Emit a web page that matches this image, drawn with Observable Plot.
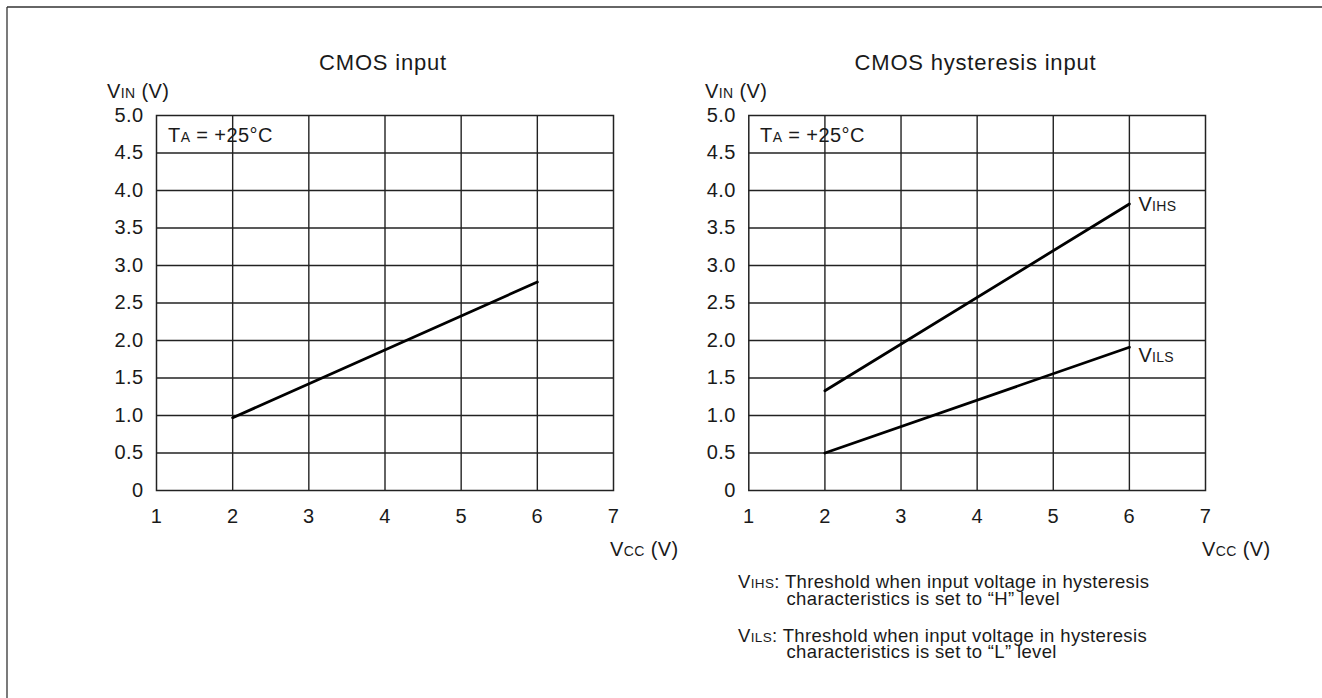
<!DOCTYPE html>
<html><head><meta charset="utf-8">
<script src="https://cdn.jsdelivr.net/npm/d3@7"></script>
<script src="https://cdn.jsdelivr.net/npm/@observablehq/plot@0.6"></script>
<style>
body{margin:0;background:#fff;}
#page{position:relative;width:1322px;height:698px;overflow:hidden;font-family:"Liberation Sans",Arial,sans-serif;}
#page > svg{position:absolute;top:0;}
</style></head><body><div id="page"></div>
<script>
// ---- data ----
const vccTicks = [1, 2, 3, 4, 5, 6, 7];
const vccTickLabels = ["1", "2", "3", "4", "5", "6", "7"];
const vinTicks = [0, 0.5, 1, 1.5, 2, 2.5, 3, 3.5, 4, 4.5, 5];
const vinTickLabels = ["0", "0.5", "1.0", "1.5", "2.0", "2.5", "3.0", "3.5", "4.0", "4.5", "5.0"];
const vcc = [2, 6];
const cmosVin = [0.97, 2.78];
const vihs = [1.33, 3.82];
const vils = [0.5, 1.91];
const titles = ["CMOS input", "CMOS hysteresis input"];

const page = document.getElementById("page");
const FONT = "Liberation Sans, Arial, sans-serif";
const INK = "#1a1a1a";

function pts(ys) { return vcc.map((x, i) => ({x, y: ys[i]})); }

function makePlot(ml, mr, width, extra) {
  return Plot.plot({
    width, height: 560,
    marginLeft: ml, marginRight: mr, marginTop: 115, marginBottom: 70,
    x: {domain: [1, 7]},
    y: {domain: [0, 5]},
    style: {fontFamily: FONT, fontSize: "20px", letterSpacing: "0.4px", color: INK, background: "transparent", overflow: "visible"},
    marks: [
      Plot.gridX(vccTicks.slice(1, -1), {stroke: "#222", strokeOpacity: 1, strokeWidth: 1.4}),
      Plot.gridY(vinTicks.slice(1, -1), {stroke: "#222", strokeOpacity: 1, strokeWidth: 1.4}),
      Plot.frame({stroke: "#222", strokeWidth: 1.5}),
      Plot.axisX(vccTicks, {tickSize: 0, tickPadding: 18, label: null,
        tickFormat: d => vccTickLabels[vccTicks.indexOf(d)]}),
      Plot.axisY(vinTicks, {tickSize: 0, tickPadding: 13, label: null,
        tickFormat: d => vinTickLabels[vinTicks.indexOf(d)]}),
      ...extra
    ]
  });
}

const left = makePlot(156, 48, 661, [
  Plot.line(pts(cmosVin), {x: "x", y: "y", stroke: "#000", strokeWidth: 2.8})
]);
left.style.left = "0px";
page.appendChild(left);

const last = vcc.length - 1;
const right = makePlot(148.3, 117, 722, [
  Plot.line(pts(vihs), {x: "x", y: "y", stroke: "#000", strokeWidth: 2.8}),
  Plot.line(pts(vils), {x: "x", y: "y", stroke: "#000", strokeWidth: 2.8}),
  Plot.text([{x: vcc[last], y: vihs[last]}], {x: "x", y: "y", text: () => "V", dx: 9, dy: 6.5, textAnchor: "start", lineAnchor: "bottom", fontSize: 20}),
  Plot.text([{x: vcc[last], y: vihs[last]}], {x: "x", y: "y", text: () => "IHS", dx: 22.5, dy: 6.5, textAnchor: "start", lineAnchor: "bottom", fontSize: 14}),
  Plot.text([{x: vcc[last], y: vils[last]}], {x: "x", y: "y", text: () => "V", dx: 9, dy: 15, textAnchor: "start", lineAnchor: "bottom", fontSize: 20}),
  Plot.text([{x: vcc[last], y: vils[last]}], {x: "x", y: "y", text: () => "ILS", dx: 22.5, dy: 15, textAnchor: "start", lineAnchor: "bottom", fontSize: 14})
]);
right.style.left = "600px";
page.appendChild(right);

// ---- overlay text ----
const ov = d3.select(page).append("svg")
  .attr("width", 1322).attr("height", 698)
  .style("left", "0px")
  .style("font-family", FONT).style("fill", INK);

ov.append("line").attr("x1", 7).attr("x2", 7).attr("y1", 7).attr("y2", 698).attr("stroke", "#333").attr("stroke-width", 1.3);
ov.append("line").attr("x1", 7).attr("x2", 1322).attr("y1", 7).attr("y2", 7).attr("stroke", "#333").attr("stroke-width", 1.3);

function rich(x, y, parts, anchor, ls) {
  const t = ov.append("text").attr("x", x).attr("y", y).attr("text-anchor", anchor || "start")
    .style("letter-spacing", (ls == null ? 0.4 : ls) + "px");
  parts.forEach(([s, fs]) => t.append("tspan").attr("font-size", fs).text(s));
  return t;
}

rich(383, 70, [[titles[0], 22]], "middle", 0.8);
rich(975.5, 70, [[titles[1], 22]], "middle", 0.8);

[[107], [705]].forEach(([x]) => rich(x, 98, [["V", 20], ["IN", 14], [" (V)", 20]]));
[[168], [760]].forEach(([x]) => rich(x, 141.5, [["T", 20], ["A", 14], [" = +25°C", 20]]));
[[610], [1202]].forEach(([x]) => rich(x, 555.5, [["V", 20], ["CC", 14], [" (V)", 20]]));

rich(738, 588, [["V", 18.5], ["IHS", 13.5], [": Threshold when input voltage in hysteresis", 18.5]], "start", 0.35);
rich(786.5, 604.5, [["characteristics is set to “H” level", 18.5]], "start", 0.35);
rich(738, 641.5, [["V", 18.5], ["ILS", 13.5], [": Threshold when input voltage in hysteresis", 18.5]], "start", 0.35);
rich(786.5, 658, [["characteristics is set to “L” level", 18.5]], "start", 0.35);
</script>
</body></html>
